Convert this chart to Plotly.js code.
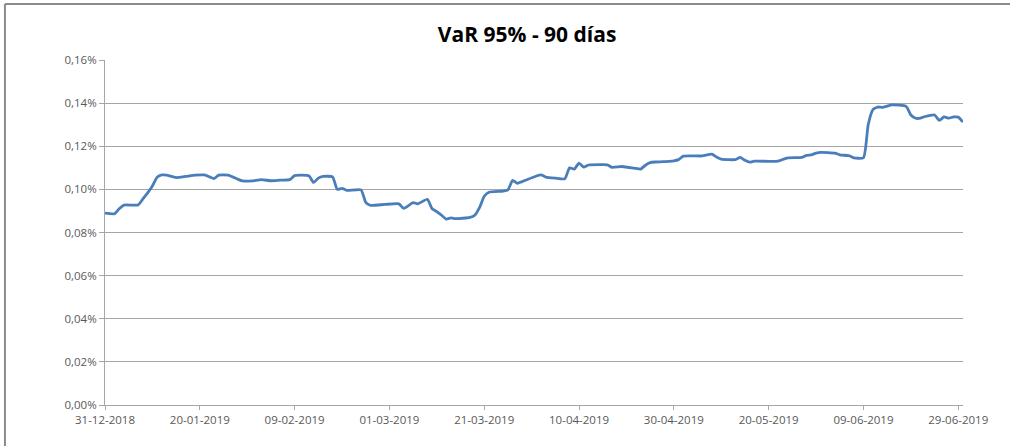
<!DOCTYPE html>
<html>
<head>
<meta charset="utf-8">
<script src="https://cdn.plot.ly/plotly-3.0.1.min.js"></script>
<style>
  html, body { margin: 0; padding: 0; background: #ffffff; }
  #chart { width: 1010px; height: 446px; }
</style>
</head>
<body>
<div id="chart"></div>
<script>
// Dates of the observations
const dates = [
  "2018-12-31","2019-01-02","2019-01-03","2019-01-04","2019-01-07","2019-01-08","2019-01-09","2019-01-10","2019-01-11","2019-01-12",
  "2019-01-13","2019-01-15","2019-01-17","2019-01-19","2019-01-21","2019-01-23","2019-01-24","2019-01-26","2019-01-28","2019-01-29",
  "2019-01-31","2019-02-02","2019-02-04","2019-02-06","2019-02-08","2019-02-09","2019-02-12","2019-02-13","2019-02-14","2019-02-15",
  "2019-02-17","2019-02-18","2019-02-19","2019-02-20","2019-02-23","2019-02-24","2019-02-25","2019-02-28","2019-03-03","2019-03-04",
  "2019-03-06","2019-03-07","2019-03-09","2019-03-10","2019-03-11","2019-03-12","2019-03-13","2019-03-14","2019-03-15","2019-03-18",
  "2019-03-19","2019-03-20","2019-03-21","2019-03-22","2019-03-25","2019-03-26","2019-03-27","2019-03-28","2019-03-29","2019-04-01",
  "2019-04-02","2019-04-03","2019-04-05","2019-04-07","2019-04-08","2019-04-09","2019-04-10","2019-04-11","2019-04-12","2019-04-15",
  "2019-04-16","2019-04-17","2019-04-19","2019-04-22","2019-04-23","2019-04-24","2019-04-25","2019-04-26","2019-04-29","2019-04-30",
  "2019-05-01","2019-05-02","2019-05-06","2019-05-08","2019-05-09","2019-05-10","2019-05-13","2019-05-14","2019-05-15","2019-05-16",
  "2019-05-17","2019-05-20","2019-05-22","2019-05-24","2019-05-27","2019-05-28","2019-05-29","2019-05-30","2019-05-31","2019-06-03",
  "2019-06-04","2019-06-06","2019-06-07","2019-06-09","2019-06-10","2019-06-11","2019-06-12","2019-06-13","2019-06-14","2019-06-15",
  "2019-06-18","2019-06-19","2019-06-20","2019-06-21","2019-06-22","2019-06-24","2019-06-25","2019-06-26","2019-06-27","2019-06-28",
  "2019-06-29","2019-06-30"
];

// VaR 95% - 90 days, in percent
const varPct = [
  0.0890,0.0887,0.0910,0.0927,0.0928,0.0956,0.0984,0.1016,0.1056,0.1067,
  0.1066,0.1055,0.1060,0.1066,0.1067,0.1050,0.1066,0.1066,0.1047,0.1039,
  0.1039,0.1045,0.1040,0.1043,0.1045,0.1064,0.1063,0.1032,0.1052,0.1060,
  0.1058,0.1000,0.1005,0.0995,0.0998,0.0940,0.0926,0.0930,0.0933,0.0912,
  0.0938,0.0933,0.0954,0.0910,0.0897,0.0880,0.0862,0.0868,0.0864,0.0870,
  0.0880,0.0915,0.0968,0.0987,0.0992,0.0998,0.1042,0.1028,0.1036,0.1062,
  0.1067,0.1057,0.1052,0.1049,0.1100,0.1094,0.1122,0.1103,0.1113,0.1115,
  0.1114,0.1102,0.1106,0.1097,0.1094,0.1112,0.1124,0.1127,0.1130,0.1132,
  0.1138,0.1154,0.1155,0.1163,0.1150,0.1140,0.1138,0.1148,0.1135,0.1126,
  0.1131,0.1130,0.1131,0.1146,0.1148,0.1158,0.1160,0.1168,0.1172,0.1168,
  0.1160,0.1156,0.1146,0.1147,0.1300,0.1370,0.1382,0.1380,0.1386,0.1392,
  0.1385,0.1345,0.1330,0.1330,0.1338,0.1345,0.1320,0.1336,0.1330,0.1336,
  0.1335,0.1312
];

const yTicks = [0, 0.02, 0.04, 0.06, 0.08, 0.10, 0.12, 0.14, 0.16]; // percent
const xTicks = ["2018-12-31","2019-01-20","2019-02-09","2019-03-01","2019-03-21","2019-04-10","2019-04-30","2019-05-20","2019-06-09","2019-06-29"];
const xTickText = ["31-12-2018","20-01-2019","09-02-2019","01-03-2019","21-03-2019","10-04-2019","30-04-2019","20-05-2019","09-06-2019","29-06-2019"];
const titleText = "VaR 95% - 90 días";

const tickFont = { family: "'Open Sans', 'Noto Sans', sans-serif", size: 11.5, color: "#595959" };

const trace = {
  x: dates,
  y: varPct.map(v => v / 100),
  type: "scatter",
  mode: "lines",
  line: { color: "#4a7ebb", width: 2.8, shape: "spline", smoothing: 0.5 },
  hoverinfo: "x+y"
};

const layout = {
  width: 1010,
  height: 446,
  paper_bgcolor: "#ffffff",
  plot_bgcolor: "#ffffff",
  separators: ",.",
  showlegend: false,
  margin: { l: 105, r: 47, t: 60, b: 41 },
  title: {
    text: "<b>" + titleText + "</b>",
    font: { family: "'Open Sans', 'Noto Sans', sans-serif", size: 21, color: "#000000" },
    x: 0.492, xref: "paper", xanchor: "center",
    y: 0.922, yref: "container", yanchor: "middle"
  },
  xaxis: {
    type: "date",
    range: ["2018-12-31", "2019-06-30"],
    tickmode: "array",
    tickvals: xTicks,
    ticktext: xTickText,
    ticks: "outside",
    ticklen: 4,
    tickcolor: "#a6a6a6",
    tickfont: tickFont,
    showgrid: false,
    showline: true,
    linecolor: "#a6a6a6",
    linewidth: 1,
    zeroline: false,
    fixedrange: true
  },
  yaxis: {
    range: [0, 0.0016],
    tickmode: "array",
    tickvals: yTicks.map(v => v / 100),
    tickformat: ".2%",
    ticks: "outside",
    ticklen: 5,
    tickcolor: "#a6a6a6",
    tickfont: tickFont,
    showgrid: true,
    gridcolor: "#a6a6a6",
    gridwidth: 1,
    showline: true,
    linecolor: "#a6a6a6",
    linewidth: 1,
    zeroline: false,
    fixedrange: true
  },
  shapes: [
    { type: "line", xref: "paper", yref: "paper", x0: -0.1166, x1: 1.12, y0: 1.162, y1: 1.162,
      line: { color: "#8c8c8c", width: 2 } },
    { type: "line", xref: "paper", yref: "paper", x0: -0.1166, x1: -0.1166, y0: 1.162, y1: -0.15,
      line: { color: "#8c8c8c", width: 2 } }
  ]
};

Plotly.newPlot("chart", [trace], layout, { displayModeBar: false, staticPlot: true });
</script>
</body>
</html>
